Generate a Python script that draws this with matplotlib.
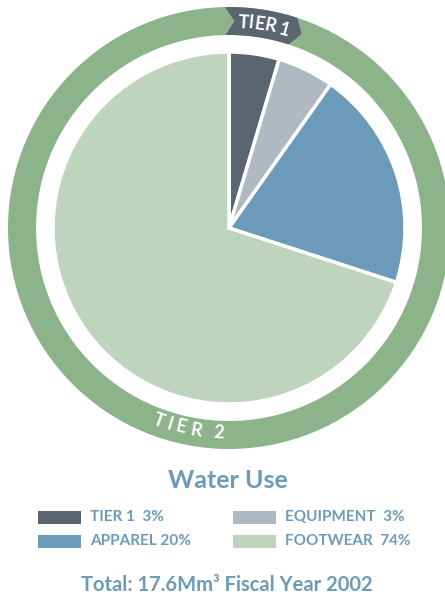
import numpy as np
import matplotlib
matplotlib.use("Agg")
import matplotlib.pyplot as plt
from matplotlib.patches import Wedge, Polygon, Rectangle
from matplotlib.font_manager import FontProperties
from matplotlib.textpath import text_to_path

# ---------------- data ----------------
categories = ["TIER 1", "EQUIPMENT", "APPAREL", "FOOTWEAR"]
legend_pct = ["3%", "3%", "20%", "74%"]
slice_values = [4.6, 5.2, 20.2, 70.0]   # share of the circle as drawn
colors = ["#5a6570", "#b0b8c1", "#6b9aba", "#bfd4bd"]
ring_color = "#8db38a"
text_color = "#6b9aba"
title = "Water Use"
total_text = "Total: 17.6Mm\u00b3 Fiscal Year 2002"

W, H = 445, 599
fig = plt.figure(figsize=(W / 100, H / 100), dpi=100)
ax = fig.add_axes([0, 0, 1, 1])

cx, cy = 229, H - 228
R_PIE = 176

ax.pie(slice_values, colors=colors, startangle=90, counterclock=False,
       center=(cx, cy), radius=R_PIE,
       wedgeprops=dict(edgecolor="white", linewidth=2.5))

# outer ring
R_OUT, R_IN = 221, 193
ax.add_patch(Wedge((cx, cy), R_OUT, 0, 360, width=R_OUT - R_IN, color=ring_color, lw=0))


def pt(theta, r):
    a = np.radians(90 - theta)
    return (cx + r * np.cos(a), cy + r * np.sin(a))


# Tier 1 badge (chevron-shaped segment of the ring)
t0, t1 = -1.0, 18.0
rm = (R_OUT + R_IN) / 2
pts = [pt(t, R_OUT) for t in np.linspace(t0, t1, 30)]
pts.append(pt(t1 + 2.5, rm))
pts += [pt(t, R_IN) for t in np.linspace(t1, t0, 30)]
pts.append(pt(t0 + 2.5, rm))
ax.add_patch(Polygon(pts, closed=True, color=colors[0], lw=0))

fp_b = FontProperties(family=["Lato", "DejaVu Sans"], weight="bold")


def arc_text(text, r, theta_c, size, tracking, top=True):
    prop = fp_b.copy()
    prop.set_size(size)
    scale = 100 / 72

    def wid(s):
        if not s:
            return 0.0
        return text_to_path.get_text_width_height_descent(s, prop, ismath=False)[0] * scale

    n = len(text)
    total = wid(text) + tracking * (n - 1)
    for i, ch in enumerate(text):
        if ch == " ":
            continue
        s = wid(text[:i]) + tracking * i + wid(ch) / 2 - total / 2
        dth = np.degrees(s / r)
        th = theta_c + dth if top else theta_c - dth
        x, y = pt(th, r)
        rot = -th if top else 180 - th
        ax.text(x, y, ch, fontproperties=prop, color="white", ha="center",
                va="center", rotation=rot, rotation_mode="anchor")


arc_text("TIER 1", 206, 9.8, 13, 0.0, top=True)
arc_text("TIER 2", 205, 191.5, 13, 4.0, top=False)

# title
ax.text(228, H - 481, title, fontproperties=fp_b, fontsize=18, color=text_color,
        ha="center", va="center")

# legend
fp_m = FontProperties(family=["Lato", "DejaVu Sans"], weight="bold")
legend_rows = [(0, 38, 517), (1, 233, 517), (2, 38, 541), (3, 233, 541)]
for idx, x0, yc in legend_rows:
    ax.add_patch(Rectangle((x0, H - yc - 6.5), 43, 13, color=colors[idx], lw=0))
    lab = categories[idx] + ("  " if idx != 2 else " ") + legend_pct[idx]
    ax.text(x0 + 52, H - yc, lab, fontproperties=fp_m, fontsize=11,
            color=text_color, ha="left", va="center")

ax.text(227, H - 585, total_text, fontproperties=fp_m, fontsize=14.5,
        color=text_color, ha="center", va="center")

ax.set_xlim(0, W)
ax.set_ylim(0, H)
ax.set_aspect("auto")
ax.set_axis_off()
fig.savefig("out.png", dpi=100)
